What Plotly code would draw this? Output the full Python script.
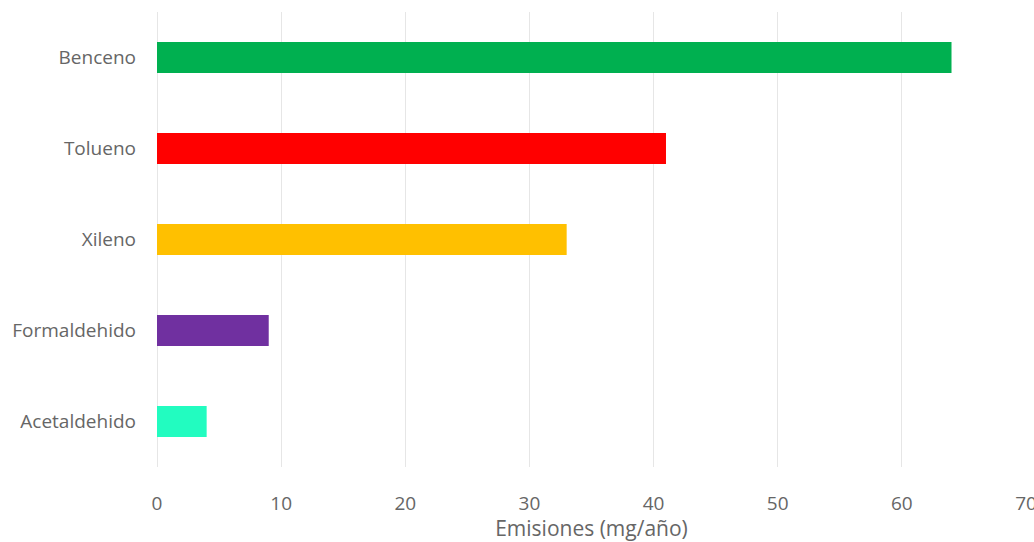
import plotly.graph_objects as go

categories = ["Benceno", "Tolueno", "Xileno", "Formaldehido", "Acetaldehido"]
values = [64, 41, 33, 9, 4]
colors = ["#00B050", "#FF0000", "#FFC000", "#7030A0", "#22FCC0"]
x_ticks = [0, 10, 20, 30, 40, 50, 60, 70]

fig = go.Figure(go.Bar(
    x=values, y=categories, orientation="h",
    marker=dict(color=colors, line=dict(width=0)),
    width=0.34,
))

fig.update_layout(
    width=1034, height=542,
    margin=dict(l=157, r=8, t=12, b=75, autoexpand=False),
    paper_bgcolor="white", plot_bgcolor="white",
    font=dict(family="Open Sans, Lato, sans-serif", size=19, color="#666666"),
    showlegend=False,
    bargap=0.66,
)
fig.update_xaxes(
    range=[0, 70], tickvals=x_ticks, showgrid=True, gridcolor="#e6e6e6", gridwidth=1,
    zeroline=True, zerolinecolor="#e6e6e6", zerolinewidth=1,
    ticks="", ticklabelstandoff=23, automargin=False, ticklabeloverflow="allow",
    tickfont=dict(size=19),
    title=dict(text="Emisiones (mg/año)", font=dict(size=21, color="#666666"), standoff=5),
)
fig.update_yaxes(
    categoryorder="array", categoryarray=categories[::-1],
    showgrid=False, ticks="", ticklabelstandoff=20, automargin=False,
    tickfont=dict(size=19),
)

fig.write_html("out.html")
